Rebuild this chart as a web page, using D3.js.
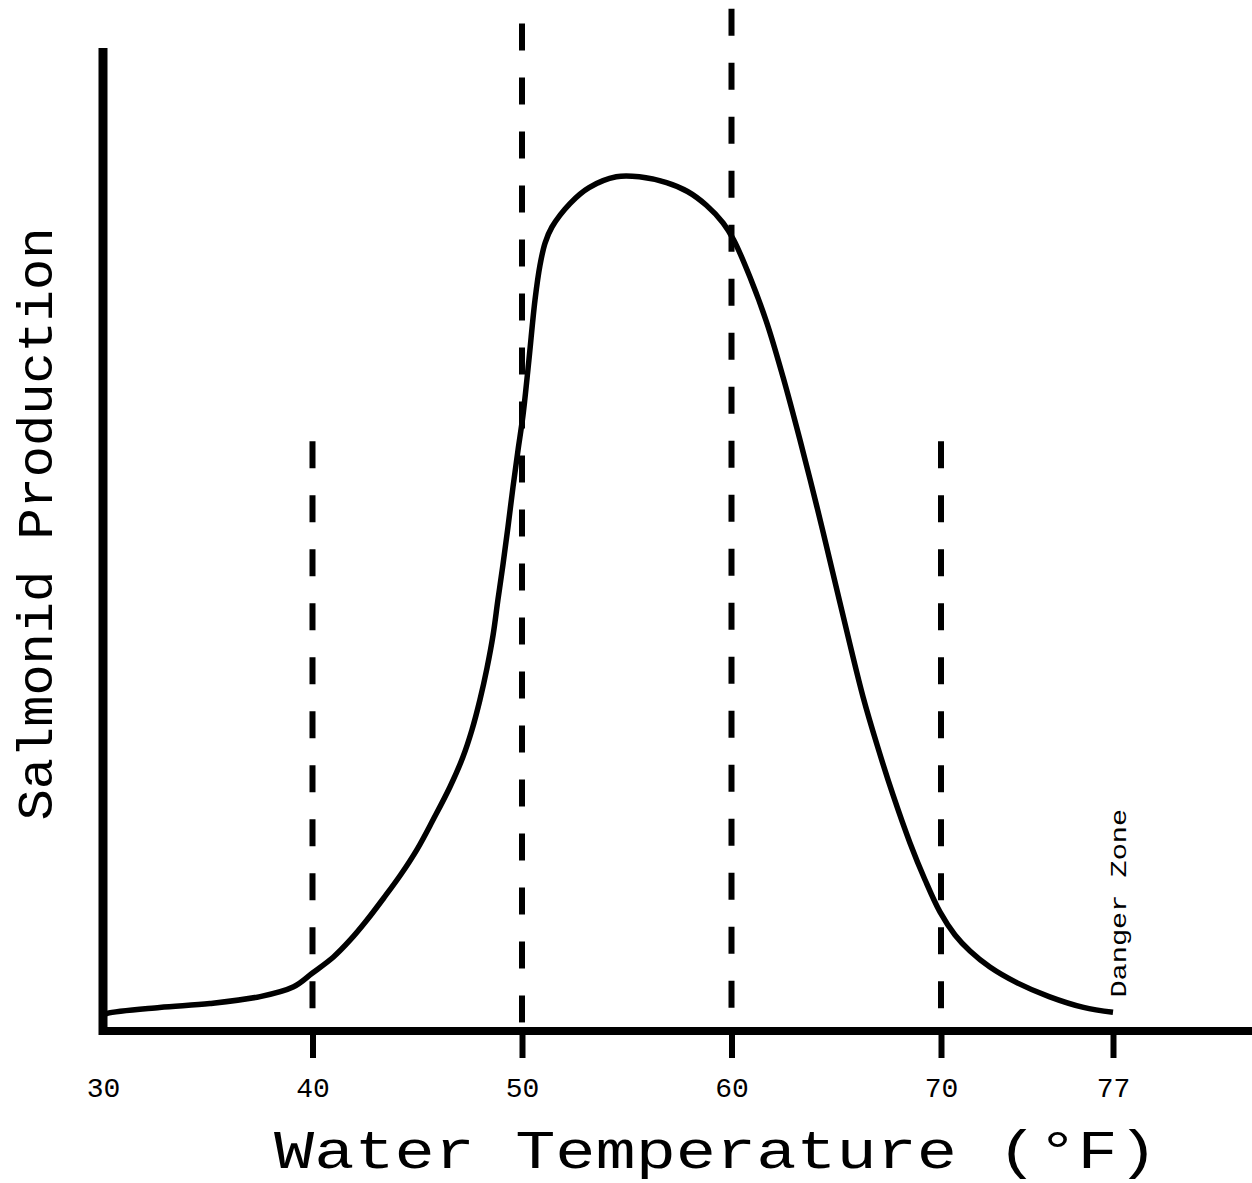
<!DOCTYPE html>
<html>
<head>
<meta charset="utf-8">
<script src="https://cdn.jsdelivr.net/npm/d3@7"></script>
<style>
  html, body { margin: 0; padding: 0; background: #fff; }
  svg { display: block; }
  text { font-family: 'Courier New', 'Liberation Mono', monospace; fill: #000; }
</style>
</head>
<body>
<svg id="chart" width="1252" height="1183"></svg>
<script>
// ---- data ----
const tickValues = [30, 40, 50, 60, 70, 77];
const tickLabels = ["30", "40", "50", "60", "70", "77"];
const tickMarkValues = [40, 50, 60, 70, 77];
const refLineX = [40, 50, 60, 70];
const refLineTop = [60, 102.5, 104, 60];
const curveTemp = [30.0, 30.2, 32.7, 35.1, 37.5, 39.1, 40.0, 41.0, 41.8, 42.6, 43.4, 44.2, 45.0, 45.75, 46.56, 47.18, 47.61, 47.99, 48.33, 48.62, 48.85, 49.09, 49.33, 49.57, 49.81, 50.05, 50.33, 50.62, 50.86, 51.1, 51.43, 52.3, 53.2, 54.5, 55.6, 56.9, 57.9, 58.8, 59.6, 60.1, 60.88, 61.69, 62.46, 63.27, 64.08, 64.84, 65.66, 66.28, 66.95, 67.71, 68.52, 69.24, 69.95, 70.57, 71.18, 71.99, 73.1, 74.4, 75.8, 77.0];
const curveProd = [1.6, 1.8, 2.4, 2.8, 3.5, 4.5, 5.9, 7.53, 9.26, 11.29, 13.53, 15.87, 18.51, 21.46, 24.82, 27.87, 30.62, 33.67, 36.93, 40.28, 43.85, 47.41, 51.27, 55.34, 59.1, 62.67, 68.26, 74.36, 77.92, 80.16, 81.79, 84.2, 85.8, 86.9, 86.9, 86.3, 85.4, 84.0, 82.2, 80.5, 76.7, 72.02, 66.53, 60.12, 53.31, 46.59, 39.27, 33.98, 29.09, 24.01, 19.13, 15.36, 12.11, 9.77, 8.14, 6.51, 4.9, 3.5, 2.4, 1.9];
const xTitle = "Water Temperature (°F)";
const yTitle = "Salmonid Production";
const noteText = "Danger Zone";
const noteAt = 77;

// ---- scales ----
const svg = d3.select("#chart");
const x = d3.scaleLinear().domain([30, 70, 77]).range([103, 941, 1113]);
const y = d3.scaleLinear().domain([0, 100]).range([1031, 48]);

// reference dashed lines
svg.append("g").selectAll("line")
  .data(refLineX.map((v, i) => ({ v, top: refLineTop[i] })))
  .join("line")
  .attr("x1", d => x(d.v)).attr("x2", d => x(d.v))
  .attr("y1", d => y(d.top)).attr("y2", y(0))
  .attr("stroke", "#000").attr("stroke-width", 6)
  .attr("stroke-dasharray", "27 27");

// curve
const line = d3.line()
  .x((d, i) => x(curveTemp[i]))
  .y(d => y(d))
  .curve(d3.curveCatmullRom.alpha(0.5));
svg.append("path")
  .datum(curveProd)
  .attr("d", line)
  .attr("fill", "none")
  .attr("stroke", "#000")
  .attr("stroke-width", 5.5)
  .attr("stroke-linejoin", "round");

// x axis ticks + labels
const xAxis = d3.axisBottom(x)
  .tickValues(tickValues)
  .tickFormat((d, i) => tickLabels[i])
  .tickSizeOuter(0)
  .tickSizeInner(27);
const gx = svg.append("g").attr("transform", `translate(0,${y(0)})`).call(xAxis);
gx.select(".domain").remove();
gx.selectAll(".tick line")
  .attr("stroke", "#000").attr("stroke-width", 6)
  .attr("display", d => tickMarkValues.includes(d) ? null : "none");
gx.selectAll(".tick text")
  .attr("y", 66).attr("dy", 0)
  .style("font-size", "28px")
  .style("font-family", "'Courier New', 'Liberation Mono', monospace");

// axis lines
svg.append("line")
  .attr("x1", x(30) - 4).attr("x2", 1252)
  .attr("y1", y(0)).attr("y2", y(0))
  .attr("stroke", "#000").attr("stroke-width", 8);
svg.append("line")
  .attr("x1", x(30)).attr("x2", x(30))
  .attr("y1", y(0) + 4).attr("y2", y(100))
  .attr("stroke", "#000").attr("stroke-width", 9);

// titles
svg.append("text")
  .attr("transform", "translate(716,1168) scale(1.24,1)")
  .attr("text-anchor", "middle")
  .style("font-size", "54px")
  .text(xTitle);

svg.append("text")
  .attr("transform", "translate(52,524) rotate(-90) scale(1.04,1)")
  .attr("text-anchor", "middle")
  .style("font-size", "50px")
  .text(yTitle);

svg.append("text")
  .attr("transform", `translate(${x(noteAt) + 13},${y(3.4)}) rotate(-90) scale(1.3,1)`)
  .style("font-size", "22px")
  .text(noteText);
</script>
</body>
</html>
